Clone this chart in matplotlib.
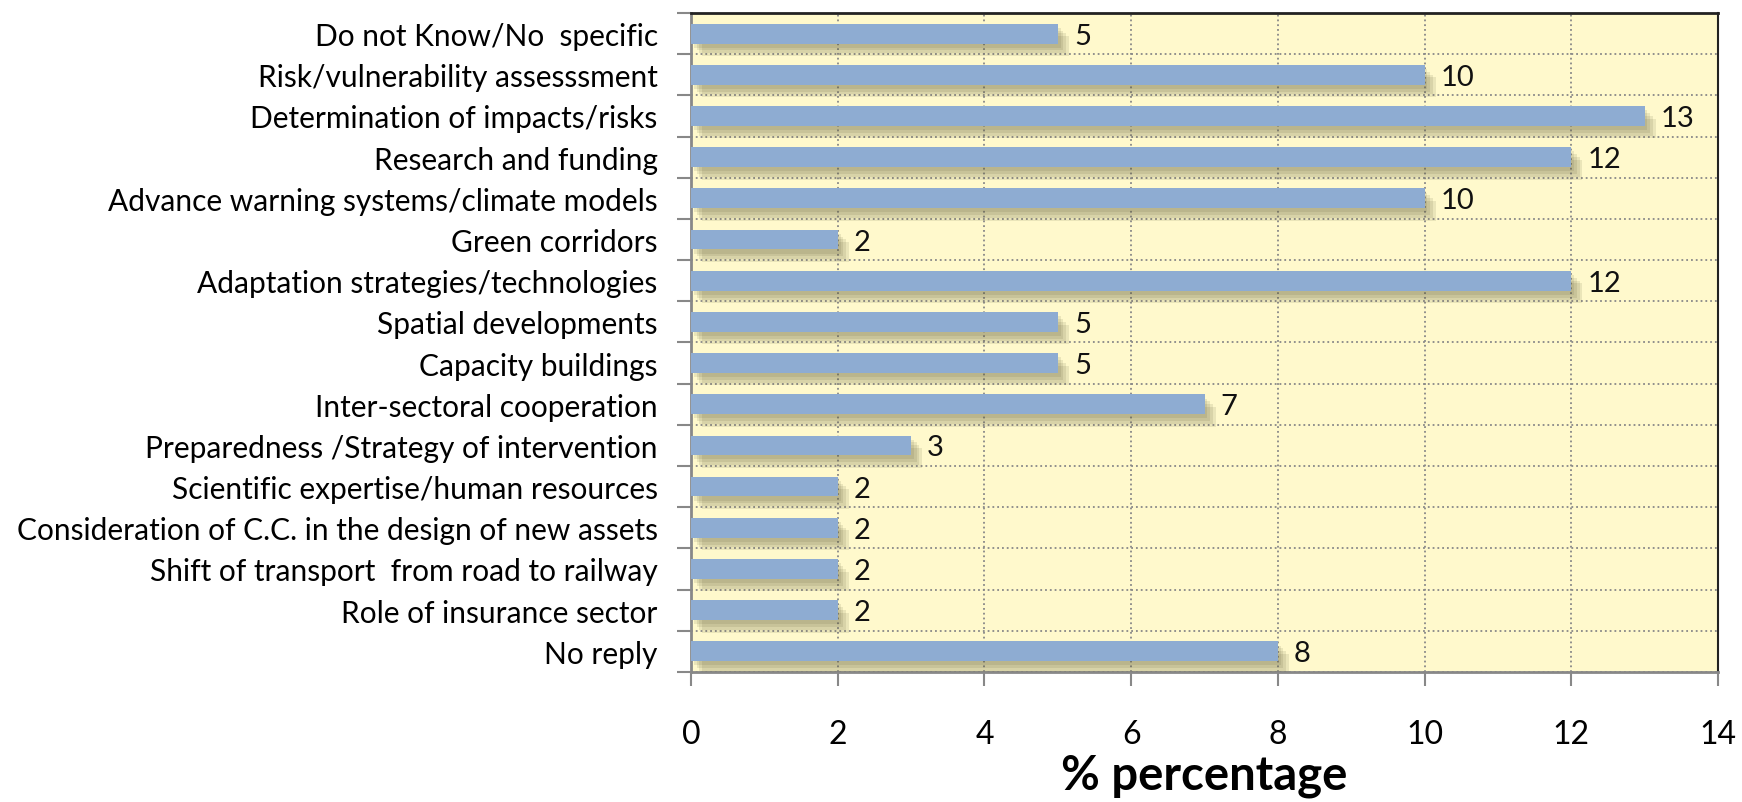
import matplotlib
matplotlib.use('Agg')
import matplotlib.pyplot as plt
import matplotlib.patheffects as pe
import numpy as np

plt.rcParams['font.family'] = ['Lato', 'DejaVu Sans']

categories = [
    'Do not Know/No  specific',
    'Risk/vulnerability assesssment',
    'Determination of impacts/risks',
    'Research and funding',
    'Advance warning systems/climate models',
    'Green corridors',
    'Adaptation strategies/technologies',
    'Spatial developments',
    'Capacity buildings',
    'Inter-sectoral cooperation',
    'Preparedness /Strategy of intervention',
    'Scientific expertise/human resources',
    'Consideration of C.C. in the design of new assets',
    'Shift of transport  from road to railway',
    'Role of insurance sector',
    'No reply',
]
values = [5, 10, 13, 12, 10, 2, 12, 5, 5, 7, 3, 2, 2, 2, 2, 8]
x_ticks = [0, 2, 4, 6, 8, 10, 12, 14]

fig = plt.figure(figsize=(17.42, 8.03), dpi=100)
ax = fig.add_axes([0.3967, 0.162, 0.5895, 0.8205])
ax.set_facecolor('#FFF9CC')

n = len(categories)
y = np.arange(n)[::-1]

# soft drop shadow: a few stacked translucent offsets
shadow = [
    pe.SimplePatchShadow(offset=(o, -o - 1), shadow_rgbFace='#5a5530', alpha=0.12)
    for o in (2, 4, 6, 8)
]
bars = ax.barh(y, values, height=0.48, color='#8EACD2', zorder=3)
for b in bars:
    b.set_path_effects(shadow + [pe.Normal()])

for yi, v in zip(y, values):
    ax.text(v + 0.22, yi - 0.05, str(v), va='center', ha='left', fontsize=21, color='#111111', zorder=4)

ax.set_xlim(0, 14)
ax.set_ylim(-0.5, n - 0.5)
ax.set_xticks(x_ticks)
ax.set_xticklabels([str(t) for t in x_ticks], fontsize=23)
ax.tick_params(axis='x', direction='out', length=10, width=1.5, color='#888888', pad=24)

ax.set_yticks(y)
ax.set_yticklabels(categories, fontsize=21.5)
ax.tick_params(axis='y', which='major', length=0, pad=24)
ax.set_yticks(np.arange(n + 1) - 0.5, minor=True)
ax.tick_params(axis='y', which='minor', direction='out', length=10, width=1.5, color='#888888')

ax.grid(True, axis='x', which='major', linestyle=':', color='#888888', linewidth=1.3, zorder=1)
ax.grid(True, axis='y', which='minor', linestyle=':', color='#888888', linewidth=1.3, zorder=1)
ax.set_axisbelow(True)

ax.spines['top'].set_color('#222222')
ax.spines['top'].set_linewidth(2)
ax.spines['right'].set_color('#222222')
ax.spines['right'].set_linewidth(1.5)
ax.spines['left'].set_color('#888888')
ax.spines['left'].set_linewidth(2)
ax.spines['bottom'].set_color('#888888')
ax.spines['bottom'].set_linewidth(2)

ax.set_xlabel('% percentage', fontsize=34, fontweight='bold', labelpad=3)

fig.savefig('out.png', dpi=100)
plt.close(fig)
